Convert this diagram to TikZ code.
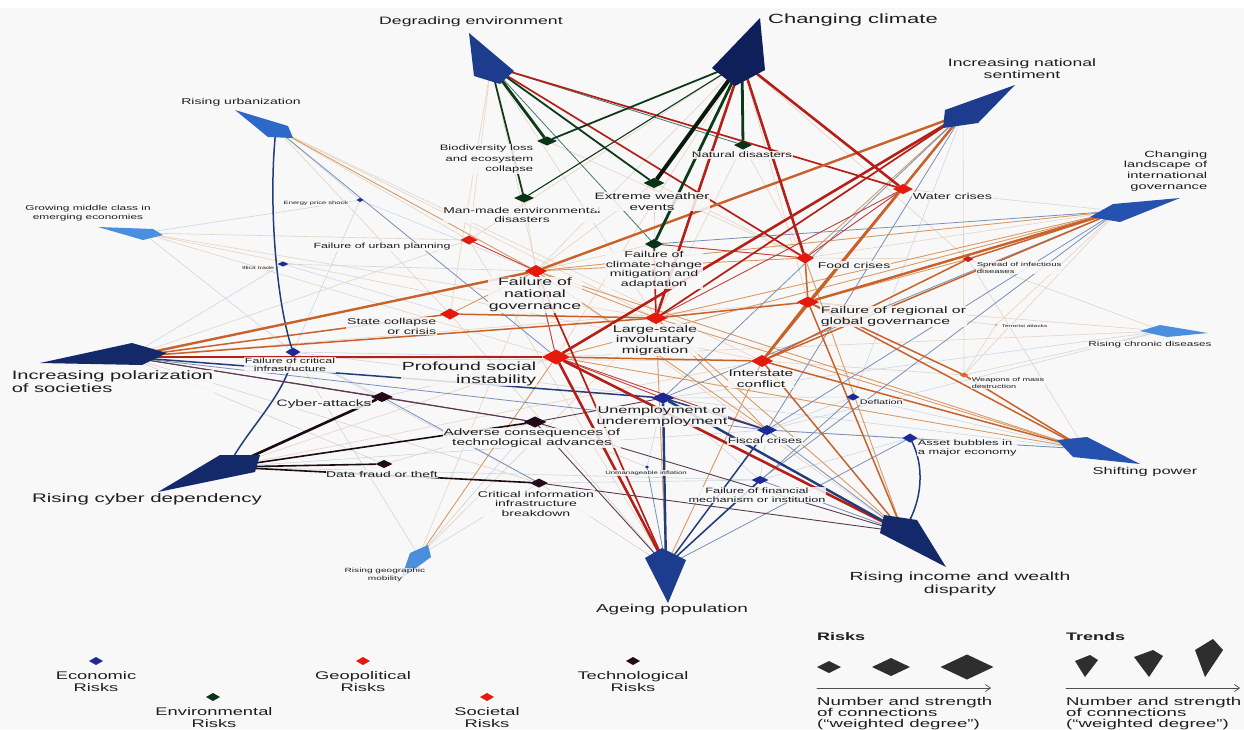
\documentclass[tikz,border=0pt]{standalone}
\usepackage{fontspec}
\setmainfont{Liberation Sans}[FakeStretch=1.65]
\usetikzlibrary{shapes.geometric,arrows.meta}
\pgfdeclarelayer{back}
\pgfdeclarelayer{edges}
\pgfsetlayers{back,edges,main}
\definecolor{bgc}{HTML}{F8F8F8}
\definecolor{txt}{HTML}{1E1E1E}
\definecolor{ecoC}{HTML}{1B2A94}
\definecolor{envC}{HTML}{0B3318}
\definecolor{socC}{HTML}{E3190E}
\definecolor{geoC}{HTML}{C8231C}
\definecolor{tecC}{HTML}{220A16}
\definecolor{orgC}{HTML}{E0652A}
\definecolor{terC}{HTML}{F0A040}
\definecolor{navyA}{HTML}{0E1F5A}
\definecolor{navyB}{HTML}{13296A}
\definecolor{blueA}{HTML}{1E3C8E}
\definecolor{blueB}{HTML}{2452AE}
\definecolor{blueC}{HTML}{2E68C8}
\definecolor{blueD}{HTML}{4A8EDE}
\definecolor{legC}{HTML}{2E2E2E}
\definecolor{gE}{HTML}{0F3A1A}
\definecolor{gE4}{HTML}{081A0C}
\definecolor{gT}{HTML}{3F7A6A}
\definecolor{rE}{HTML}{B42018}
\definecolor{oE}{HTML}{C8622A}
\definecolor{oL}{HTML}{D99A66}
\definecolor{bE}{HTML}{223D7A}
\definecolor{bL}{HTML}{7890B8}
\definecolor{kE}{HTML}{1A0A12}
\definecolor{kL}{HTML}{5A3A52}
\definecolor{fo}{HTML}{E6D3C2}
\definecolor{fb}{HTML}{CDD6E4}
\definecolor{fk}{HTML}{D8D0D6}
\newcommand\fsz[2]{\fontsize{#1}{#2}\selectfont}
\tikzset{
  dm/.style={shape=diamond, inner sep=0pt, outer sep=0pt, draw=none},
  lab/.style={inner sep=0.6pt, align=center, text=txt, fill=bgc, fill opacity=0.85, text opacity=1},
  g4/.style={draw=gE4, line width=4pt},
  g3/.style={draw=gE, line width=2.8pt},
  g2/.style={draw=gE, line width=1.8pt},
  g1/.style={draw=gE, line width=1.1pt},
  gt/.style={draw=gT, line width=0.8pt},
  r3/.style={draw=rE, line width=2.6pt},
  r2/.style={draw=rE, line width=1.7pt},
  r1/.style={draw=rE!85, line width=0.9pt},
  o3/.style={draw=oE, line width=2.4pt},
  o2/.style={draw=oE, line width=1.5pt},
  o1/.style={draw=oL, line width=0.9pt},
  b3/.style={draw=bE, line width=2.4pt},
  b2/.style={draw=bE, line width=1.5pt},
  b1/.style={draw=bL, line width=0.8pt},
  k3/.style={draw=kE, line width=2.6pt},
  k2/.style={draw=kE, line width=1.6pt},
  k1/.style={draw=kL, line width=0.9pt},
  ffo/.style={draw=fo, line width=0.6pt},
  ffb/.style={draw=fb, line width=0.6pt},
  ffk/.style={draw=fk, line width=0.6pt},
}
\begin{document}
\begin{tikzpicture}[x=1pt,y=-1pt,line cap=round]
\begin{pgfonlayer}{back}
\fill[white] (0,0) rectangle (1244,729);
\fill[bgc] (0,8) rectangle (1244,729);
\end{pgfonlayer}
\useasboundingbox (0,0) rectangle (1244,729);

% ---------- trends (kites) ----------
\fill[blueA] (469,33) -- (514,71) -- (500,84) -- (474,76) -- cycle;
\coordinate (tDeg) at (491,66);
\fill[navyA] (760,18) -- (765,70) -- (735,86) -- (712,68) -- cycle;
\coordinate (tClim) at (742,62);
\fill[blueA] (1015,85) -- (945,110) -- (943,128) -- (978,123) -- cycle;
\coordinate (tNat) at (963,114);
\fill[blueB] (1180,198) -- (1113,204) -- (1090,217) -- (1120,222) -- cycle;
\coordinate (tLand) at (1118,211);
\fill[blueD] (1208,333) -- (1160,325) -- (1140,331) -- (1167,337) -- cycle;
\coordinate (tChron) at (1163,331);
\fill[blueB] (1057,440) -- (1087,437) -- (1140,464) -- (1073,457) -- cycle;
\coordinate (tShift) at (1085,449);
\fill[navyB] (884,515) -- (917,520) -- (946,567) -- (880,533) -- cycle;
\coordinate (tInc) at (903,532);
\fill[blueA] (645,558) -- (662,548) -- (686,560) -- (668,603) -- cycle;
\coordinate (tAge) at (666,566);
\fill[blueD] (428,545) -- (431,557) -- (401,579) -- (410,553) -- cycle;
\coordinate (tMob) at (419,556);
\fill[navyB] (220,455) -- (260,455) -- (255,472) -- (158,492) -- cycle;
\coordinate (tCyb) at (228,467);
\fill[navyB] (40,363) -- (132,343) -- (167,353) -- (142,365) -- cycle;
\coordinate (tPol) at (128,357);
\fill[blueD] (98,227) -- (153,229) -- (163,235) -- (143,240) -- cycle;
\coordinate (tMid) at (143,233);
\fill[blueC] (235,110) -- (288,126) -- (293,138) -- (268,137) -- cycle;
\coordinate (tUrb) at (276,129);

% ---------- labels ----------
\node[lab,font=\fsz{10.7}{11}] (lDeg) at (471,22) {Degrading environment};
\node[lab,font=\fsz{13.3}{14}] (lClim) at (853,20) {Changing climate};
\node[lab,font=\fsz{10.7}{12}] (lNat) at (1022,69) {Increasing national\\sentiment};
\node[lab,font=\fsz{8.9}{10.7},align=right,anchor=east] (lLand) at (1208,171) {Changing\\landscape of\\international\\governance};
\node[lab,font=\fsz{8.5}{9}] (lUrb) at (241,102) {Rising urbanization};
\node[lab,font=\fsz{7.2}{8.5}] (lMid) at (88,213) {Growing middle class in\\emerging economies};
\node[lab,font=\fsz{7.1}{8}] (lChron) at (1150,345) {Rising chronic diseases};
\node[lab,font=\fsz{10}{11}] (lShift) at (1145,472) {Shifting power};
\node[lab,font=\fsz{11.75}{13}] (lInc) at (960,583.5) {Rising income and wealth\\disparity};
\node[lab,font=\fsz{11.5}{12}] (lAge) at (672,610) {Ageing population};
\node[lab,font=\fsz{6.1}{8}] (lMob) at (385,575) {Rising geographic\\mobility};
\node[lab,font=\fsz{12.4}{13}] (lCyb) at (147,499) {Rising cyber dependency};
\node[lab,font=\fsz{12.2}{13},align=left,anchor=west] (lPol) at (11,382) {Increasing polarization\\of societies};

\node[lab,font=\fsz{7.9}{10.5},align=right,anchor=east] (lBiod) at (534,159) {Biodiversity loss\\and ecosystem\\collapse};
\node[lab,font=\fsz{8.4}{9.5}] (lMan) at (522,215) {Man-made environmental\\disasters};
\node[lab,font=\fsz{9.2}{11}] (lExt) at (652,201.5) {Extreme weather\\events};
\node[lab,font=\fsz{8.1}{9}] (lNatdis) at (742,155) {Natural disasters};
\node[lab,font=\fsz{8.6}{9.5}] (lClimf) at (654,270) {Failure of\\climate-change\\mitigation and\\adaptation};
\node[lab,font=\fsz{7.5}{8}] (lUrban) at (382,247) {Failure of urban planning};
\node[lab,font=\fsz{10.7}{12}] (lNatgov) at (535,295) {Failure of\\national\\governance};
\node[lab,font=\fsz{8.6}{10},align=right,anchor=east] (lState) at (437,326) {State collapse\\or crisis};
\node[lab,font=\fsz{11.8}{13},align=right,anchor=east] (lProf) at (537,373.5) {Profound social\\instability};
\node[lab,font=\fsz{9.8}{10.5}] (lMigr) at (655,340) {Large-scale\\involuntary\\migration};
\node[lab,font=\fsz{8.7}{9},anchor=west] (lWater) at (912,196) {Water crises};
\node[lab,font=\fsz{8.5}{9},anchor=west] (lFood) at (817,265) {Food crises};
\node[lab,font=\fsz{5.8}{7},align=left,anchor=west] (lInfect) at (976,267.5) {Spread of infectious\\diseases};
\node[lab,font=\fsz{9.6}{11},align=left,anchor=west] (lRegov) at (820,316.5) {Failure of regional or\\global governance};
\node[lab,font=\fsz{3.9}{4},anchor=west] (lTerror) at (1001,326) {Terrorist attacks};
\node[lab,font=\fsz{9.4}{11}] (lInter) at (761,379) {Interstate\\conflict};
\node[lab,font=\fsz{5.5}{6.5},align=left,anchor=west] (lWmd) at (971,383) {Weapons of mass\\destruction};
\node[lab,font=\fsz{4.6}{5}] (lEnergy) at (316,203.5) {Energy price shock};
\node[lab,font=\fsz{4.3}{5}] (lIllicit) at (258,268) {Illicit trade};
\node[lab,font=\fsz{7.5}{8.5}] (lCritinf) at (290,365) {Failure of critical\\infrastructure};
\node[lab,font=\fsz{9.9}{11}] (lUnemp) at (662,416.5) {Unemployment or\\underemployment};
\node[lab,font=\fsz{8.2}{9}] (lFiscal) at (765,441) {Fiscal crises};
\node[lab,font=\fsz{6.6}{7},anchor=west] (lDefl) at (859,402) {Deflation};
\node[lab,font=\fsz{7.8}{8.5},align=left,anchor=west] (lAsset) at (917,448) {Asset bubbles in\\a major economy};
\node[lab,font=\fsz{4.7}{5}] (lInfl) at (646,473) {Unmanageable inflation};
\node[lab,font=\fsz{7.7}{8.5}] (lFin) at (757,495) {Failure of financial\\mechanism or institution};
\node[lab,font=\fsz{9.3}{10}] (lCyber) at (324,404) {Cyber-attacks};
\node[lab,font=\fsz{9.3}{10.5}] (lAdv) at (532,438) {Adverse consequences of\\technological advances};
\node[lab,font=\fsz{8.4}{9}] (lData) at (382,474) {Data fraud or theft};
\node[lab,font=\fsz{8.5}{9.5}] (lCii) at (536,503.5) {Critical information\\infrastructure\\breakdown};

% ---------- risks (diamonds) ----------
\node[dm,fill=envC,minimum width=20pt,minimum height=9pt] (biod) at (547,141) {};
\node[dm,fill=envC,minimum width=20pt,minimum height=9pt] (manmade) at (524,198) {};
\node[dm,fill=envC,minimum width=21pt,minimum height=10pt] (extreme) at (654,183) {};
\node[dm,fill=envC,minimum width=18pt,minimum height=9pt] (natdis) at (743,145) {};
\node[dm,fill=envC,minimum width=18pt,minimum height=10pt] (climfail) at (654,244) {};
\node[dm,fill=socC,minimum width=17pt,minimum height=9pt] (urban) at (469,240) {};
\node[dm,fill=socC,minimum width=22pt,minimum height=12pt] (natgov) at (536,271) {};
\node[dm,fill=socC,minimum width=20pt,minimum height=11pt] (state) at (450,314) {};
\node[dm,fill=socC,minimum width=28pt,minimum height=15pt] (profound) at (556,357) {};
\node[dm,fill=socC,minimum width=23pt,minimum height=12pt] (migr) at (656,318) {};
\node[dm,fill=socC,minimum width=20pt,minimum height=10pt] (water) at (903,189) {};
\node[dm,fill=socC,minimum width=18pt,minimum height=11pt] (food) at (805,258) {};
\node[dm,fill=geoC,minimum width=11pt,minimum height=6pt] (infect) at (968,259) {};
\node[dm,fill=socC,minimum width=22pt,minimum height=11pt] (regov) at (808,302) {};
\node[dm,fill=socC,minimum width=22pt,minimum height=12pt] (inter) at (762,361) {};
\node[dm,fill=orgC,minimum width=9pt,minimum height=5pt] (wmd) at (964,375) {};
\node[dm,fill=terC,minimum width=3pt,minimum height=2pt] (terror) at (996,325) {};
\node[dm,fill=ecoC,minimum width=7pt,minimum height=4pt] (energy) at (360,200) {};
\node[dm,fill=ecoC,minimum width=11pt,minimum height=5pt] (illicit) at (283,264) {};
\node[dm,fill=ecoC,minimum width=15pt,minimum height=9pt] (critinf) at (293,352) {};
\node[dm,fill=ecoC,minimum width=23pt,minimum height=11pt] (unemp) at (663,398) {};
\node[dm,fill=ecoC,minimum width=20pt,minimum height=10pt] (fiscal) at (767,430) {};
\node[dm,fill=ecoC,minimum width=13pt,minimum height=7pt] (deflation) at (853,397) {};
\node[dm,fill=ecoC,minimum width=15pt,minimum height=9pt] (asset) at (910,438) {};
\node[dm,fill=ecoC,minimum width=4pt,minimum height=3pt] (inflation) at (647,467) {};
\node[dm,fill=ecoC,minimum width=17pt,minimum height=8pt] (finmech) at (760,480) {};
\node[dm,fill=tecC,minimum width=22pt,minimum height=10pt] (cyber) at (382,397) {};
\node[dm,fill=tecC,minimum width=23pt,minimum height=11pt] (adverse) at (535,422) {};
\node[dm,fill=tecC,minimum width=17pt,minimum height=8pt] (datafraud) at (384,464) {};
\node[dm,fill=tecC,minimum width=18pt,minimum height=9pt] (cii) at (539,483) {};

% ---------- connections ----------
\begin{pgfonlayer}{edges}
\foreach \a/\b in {tUrb/urban,tUrb/state,tUrb/migr,tUrb/inter,tMid/urban,tMid/migr,tMid/inter,tMid/profound,
  tPol/urban,tPol/inter,tPol/regov,tDeg/state,tDeg/urban,tDeg/migr,tDeg/profound,tClim/profound,tClim/regov,
  tClim/natgov,tClim/urban,tClim/infect,extreme/natgov,extreme/migr,extreme/food,climfail/natgov,climfail/food,
  natdis/food,natdis/migr,biod/food,manmade/natgov,tChron/infect,tChron/regov,tChron/profound,tChron/wmd,
  tShift/infect,tLand/food,tLand/water,tLand/wmd,tLand/terror,tNat/water,tNat/wmd,wmd/inter,wmd/terror,
  terror/regov,infect/food,water/inter,water/food,tMob/migr,tMob/natgov,tInc/natgov,tAge/state,tCyb/profound,
  tCyb/inter,tAge/urban}
  \draw[ffo] (\a) -- (\b);
\foreach \a/\b in {tUrb/energy,tMid/critinf,tMid/energy,tPol/illicit,energy/natgov,energy/critinf,illicit/natgov,
  illicit/state,critinf/profound,critinf/unemp,critinf/cii,inflation/unemp,deflation/fiscal,deflation/unemp,
  asset/fiscal,asset/finmech,finmech/unemp,finmech/fiscal,tShift/deflation,tShift/asset,tShift/unemp,tChron/unemp,
  tChron/fiscal,tNat/deflation,tCyb/fiscal,tCyb/finmech,tMob/cii,tMob/critinf,cii/finmech}
  \draw[ffb] (\a) -- (\b);
\foreach \a/\b in {tPol/cii,tPol/datafraud,cyber/profound,cyber/critinf,datafraud/adverse,inflation/adverse,
  tMob/adverse,cii/tAge}
  \draw[ffk] (\a) -- (\b);
% thin coloured
\foreach \a/\b in {tNat/food,tLand/natgov,tLand/migr,tLand/profound,tShift/natgov,tShift/migr,tShift/profound,
  natgov/migr,natgov/fiscal,natgov/food,natgov/state,migr/fiscal,tInc/food,tInc/migr,inter/tAge,migr/tAge,
  regov/infect,tUrb/natgov,tMob/profound}
  \draw[o1] (\a) -- (\b);
\foreach \a/\b in {tNat/unemp,tNat/fiscal,tLand/unemp,tLand/fiscal,tLand/finmech,tLand/climfail,tPol/fiscal,
  tUrb/profound,tInc/fiscal,tInc/finmech,deflation/tAge,asset/tAge,inflation/tAge,tShift/fiscal,cyber/cii}
  \draw[b1] (\a) -- (\b);
\foreach \a/\b in {tPol/cyber,cyber/adverse,adverse/unemp,adverse/tInc,cii/tInc,adverse/tAge,tPol/adverse}
  \draw[k1] (\a) -- (\b);
\foreach \a/\b in {profound/natgov,profound/unemp,food/water,natgov/urban,migr/water,food/climfail,profound/fiscal}
  \draw[r1] (\a) -- (\b);
\draw[gt] (tDeg) -- (climfail);
\draw[gt] (tDeg) -- (natdis);
% medium
\foreach \a/\b in {tPol/state,tPol/migr,state/migr,migr/regov,tLand/inter,tLand/infect,tShift/inter,tShift/regov,
  tShift/wmd,regov/wmd,profound/inter,tInc/inter,tInc/regov,inter/infect,food/regov,tNat/regov}
  \draw[o2] (\a) -- (\b);
\foreach \a/\b in {fiscal/tAge,finmech/tAge,tPol/unemp,unemp/fiscal}
  \draw[b2] (\a) -- (\b);
\draw[b2] (tUrb) .. controls (268,200) and (276,300) .. (critinf);
\draw[b2] (critinf) .. controls (286,395) and (246,430) .. (tCyb);
\draw[b2] (asset) .. controls (924,465) and (924,500) .. (tInc);
\foreach \a/\b in {tDeg/water,tDeg/food,tNat/migr,migr/climfail,natgov/tAge}
  \draw[r2] (\a) -- (\b);
\foreach \a/\b in {tCyb/adverse,tCyb/datafraud,tCyb/cii}
  \draw[k2] (\a) -- (\b);
\foreach \a/\b in {tClim/biod,tDeg/manmade,tDeg/extreme}
  \draw[g2] (\a) -- (\b);
\draw[g1] (tClim) -- (manmade);
% thick
\foreach \a/\b in {tNat/natgov,tNat/inter,tPol/natgov,tLand/regov,inter/regov}
  \draw[o3] (\a) -- (\b);
\foreach \a/\b in {tClim/migr,tClim/food,tClim/water,tPol/profound,profound/tInc,profound/tAge,tNat/profound}
  \draw[r3] (\a) -- (\b);
\foreach \a/\b in {unemp/tInc,unemp/tAge}
  \draw[b3] (\a) -- (\b);
\foreach \a/\b in {tClim/natdis,tClim/climfail,tDeg/biod}
  \draw[g3] (\a) -- (\b);
\draw[g4] (tClim) -- (extreme);
\draw[k3] (tCyb) -- (cyber);
\end{pgfonlayer}

% ---------- legend ----------
\node[dm,fill=ecoC,minimum width=14pt,minimum height=8pt] (kEco) at (96,661) {};
\node[lab,font=\fsz{11.1}{11.5}] (kEcoL) at (96,681.5) {Economic\\Risks};
\node[dm,fill=envC,minimum width=14pt,minimum height=8pt] (kEnv) at (213,697) {};
\node[lab,font=\fsz{11.1}{11.5}] (kEnvL) at (214,717.5) {Environmental\\Risks};
\node[dm,fill=socC,minimum width=14pt,minimum height=8pt] (kGeo) at (363,661) {};
\node[lab,font=\fsz{11.1}{11.5}] (kGeoL) at (363,681.5) {Geopolitical\\Risks};
\node[dm,fill=socC,minimum width=14pt,minimum height=8pt] (kSoc) at (487,697) {};
\node[lab,font=\fsz{11.1}{11.5}] (kSocL) at (487,717.5) {Societal\\Risks};
\node[dm,fill=tecC,minimum width=14pt,minimum height=8pt] (kTec) at (633,661) {};
\node[lab,font=\fsz{11.1}{11.5}] (kTecL) at (633,681.5) {Technological\\Risks};

\node[font=\bfseries\fsz{10.9}{12},text=txt,anchor=west,inner sep=0pt] (kRisks) at (817,637) {Risks};
\node[dm,fill=legC,minimum width=24pt,minimum height=12pt] (kR1) at (829,667) {};
\node[dm,fill=legC,minimum width=38pt,minimum height=18pt] (kR2) at (891,667) {};
\node[dm,fill=legC,minimum width=53pt,minimum height=25pt] (kR3) at (967,667) {};
\coordinate (kA1) at (817,688);
\coordinate (kA2) at (991,688);
\draw[-{Straight Barb[length=5pt,width=7pt]},draw=legC!85,line width=0.7pt] (kA1) -- (kA2);
\node[font=\fsz{11.3}{10.7},text=txt,align=left,anchor=west,inner sep=0pt] (kRtxt) at (817,713.7) {Number and strength\\of connections\\(“weighted degree”)};

\node[font=\bfseries\fsz{10.9}{12},text=txt,anchor=west,inner sep=0pt] (kTrends) at (1066,637) {Trends};
\fill[legC] (1075,661) -- (1090,655) -- (1098,660) -- (1085,677) -- cycle;
\fill[legC] (1134,657) -- (1153,650) -- (1163,656) -- (1149,677) -- cycle;
\fill[legC] (1195,650) -- (1213,639) -- (1223,650) -- (1205,677) -- cycle;
\coordinate (kB1) at (1066,688);
\coordinate (kB2) at (1240,688);
\draw[-{Straight Barb[length=5pt,width=7pt]},draw=legC!85,line width=0.7pt] (kB1) -- (kB2);
\node[font=\fsz{11.3}{10.7},text=txt,align=left,anchor=west,inner sep=0pt] (kTtxt) at (1066,713.7) {Number and strength\\of connections\\(“weighted degree”)};
\end{tikzpicture}
\end{document}
